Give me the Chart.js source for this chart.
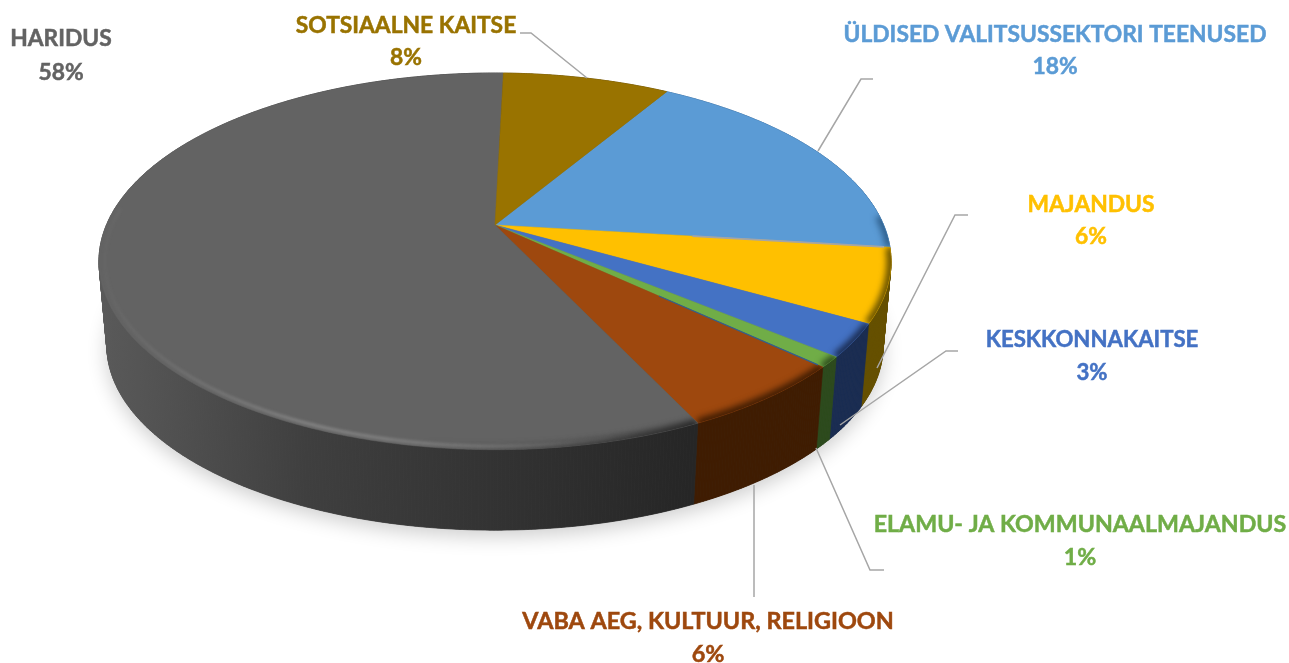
<!DOCTYPE html>
<html lang="et">
<head>
<meta charset="utf-8">
<title>Kulud valdkonniti</title>
<script src="https://cdn.jsdelivr.net/npm/chart.js@4/dist/chart.umd.min.js"></script>
<style>
  html, body { margin: 0; padding: 0; background: #fff; }
  #wrap { width: 1289px; height: 663px; }
</style>
</head>
<body>
<div id="wrap"><canvas id="chart-kulud" width="1289" height="663"></canvas></div>
<script>
/* andmed */
var categories = ['ÜLDISED VALITSUSSEKTORI TEENUSED', 'MAJANDUS', 'KESKKONNAKAITSE', 'ELAMU- JA KOMMUNAALMAJANDUS', 'VABA AEG, KULTUUR, RELIGIOON', 'HARIDUS', 'SOTSIAALNE KAITSE'];
var shares = [18.3, 6.3, 2.8, 0.9, 6.0, 57.5, 8.2];
var topColors = ['#5b9bd5', '#ffc000', '#4472c4', '#70ad47', '#9e480e', '#636363', '#997300'];
var wallColors = ['#2f5f8c', '#665000', '#1a2c52', '#2c4a1c', '#3f1c02', '#3a3a3a', '#5c4500'];

/* sildid: keskpunkt x, nime y, protsendi y, kirja suurus, juhtjoon */
var labelX = [1055, 1091, 1092, 1080, 708, 61, 406];
var labelY = [34.5, 204.5, 339.5, 524.5, 621.5, 38.5, 25.5];
var valueY = [67, 236.5, 372.5, 557.5, 654, 73, 57.5];
var labelSize = [22.8, 22.8, 22.2, 23.2, 23.4, 22.8, 22.8];
var leaders = [
  [[873, 79], [861, 79], [818, 151]],
  [[968, 215], [955, 215], [877, 368]],
  [[958, 351], [946, 351], [840, 425]],
  [[884, 570], [870, 570], [816, 448]],
  [[754, 597], [754, 485]],
  null,
  [[520, 33], [531, 33], [587, 78]]
];

// perspektiiv: ring -> ekraan, keskpunkt ei ole ellipsi keskel
var CX = 495, CY = 225, RA = 388.6, RB = 181.3, K = 0.193;
var WALL_DY = 85, WALL_SCALE = 0.98;

function topPoint(a) {
  var x = Math.cos(a), y = Math.sin(a), s = 1 / (1 - K * y);
  return { x: CX + RA * x * s, y: CY + RB * y * s };
}
function bottomPoint(a) {
  var p = topPoint(a);
  return { x: CX + (p.x - CX) * WALL_SCALE, y: CY + WALL_DY + (p.y - CY) * WALL_SCALE };
}
function arcPoints(fn, a0, a1) {
  var n = Math.max(2, Math.ceil((a1 - a0) / 0.008)), pts = [];
  for (var i = 0; i <= n; i++) pts.push(fn(a0 + (a1 - a0) * i / n));
  return pts;
}
function tracePoints(ctx, pts) {
  ctx.beginPath();
  pts.forEach(function(p, i) { if (i) ctx.lineTo(p.x, p.y); else ctx.moveTo(p.x, p.y); });
}
function slicePath(ctx, a0, a1) {
  var pts = arcPoints(topPoint, a0, a1);
  ctx.beginPath();
  ctx.moveTo(CX, CY);
  pts.forEach(function(p) { ctx.lineTo(p.x, p.y); });
  ctx.closePath();
}

function drawWall(ctx, a0, a1, fill) {
  var t = arcPoints(topPoint, a0, a1), b = arcPoints(bottomPoint, a0, a1);
  ctx.fillStyle = fill;
  ctx.strokeStyle = fill;
  ctx.lineWidth = 0.7;
  for (var i = 0; i < t.length - 1; i++) {
    ctx.beginPath();
    ctx.moveTo(t[i].x, t[i].y);
    ctx.lineTo(t[i + 1].x, t[i + 1].y);
    ctx.lineTo(b[i + 1].x, b[i + 1].y);
    ctx.lineTo(b[i].x, b[i].y);
    ctx.closePath();
    ctx.fill();
    ctx.stroke();
  }
}

var pie3d = {
  id: 'pie3d',
  // tavalise tasapinnalise lõigu asemel joonistame kaldus ketta
  beforeDatasetDraw: function(chart, args) {
    var ctx = chart.ctx;
    var arcs = chart.getDatasetMeta(args.index).data;

    ctx.save();
    // vari ketta all
    ctx.save();
    ctx.shadowColor = 'rgba(0,0,0,0.2)';
    ctx.shadowBlur = 20;
    ctx.shadowOffsetY = 6;
    ctx.fillStyle = '#555';
    tracePoints(ctx, arcPoints(bottomPoint, 0, Math.PI * 2));
    ctx.closePath();
    ctx.fill();
    ctx.restore();

    var wallGrad = ctx.createLinearGradient(100, 0, 690, 0);
    wallGrad.addColorStop(0, '#5a5a5a');
    wallGrad.addColorStop(0.35, '#3f3f3f');
    wallGrad.addColorStop(1, '#262626');

    arcs.forEach(function(arc, i) {
      drawWall(ctx, arc.startAngle, arc.endAngle, i === 5 ? wallGrad : wallColors[i]);
    });

    var rimGrad = ctx.createLinearGradient(420, 0, 690, 0);
    rimGrad.addColorStop(0, 'rgba(47,47,47,0)');
    rimGrad.addColorStop(1, 'rgba(38,38,38,1)');

    arcs.forEach(function(arc, i) {
      slicePath(ctx, arc.startAngle, arc.endAngle);
      ctx.fillStyle = topColors[i];
      ctx.fill();
      ctx.strokeStyle = topColors[i];
      ctx.lineWidth = 0.5;
      ctx.stroke();

      // pehme serv ainult ketta esiosas
      var from = Math.max(arc.startAngle, -0.05), to = Math.min(arc.endAngle, Math.PI + 0.05);
      if (to <= from) return;
      ctx.save();
      slicePath(ctx, arc.startAngle, arc.endAngle);
      ctx.clip();
      ctx.filter = 'blur(3px)';
      ctx.strokeStyle = i === 5 ? rimGrad : wallColors[i];
      ctx.lineWidth = 9;
      tracePoints(ctx, arcPoints(topPoint, from, to));
      ctx.stroke();
      ctx.restore();
    });

    // hariduse helendav serv
    var h = arcs[5];
    var glow = ctx.createLinearGradient(100, 0, 640, 0);
    glow.addColorStop(0, 'rgba(150,150,150,0.05)');
    glow.addColorStop(0.15, 'rgba(150,150,150,0.3)');
    glow.addColorStop(0.4, 'rgba(160,160,160,0.65)');
    glow.addColorStop(0.72, 'rgba(150,150,150,0.5)');
    glow.addColorStop(1, 'rgba(150,150,150,0)');
    ctx.save();
    ctx.filter = 'blur(1.5px)';
    ctx.strokeStyle = glow;
    ctx.lineWidth = 2.6;
    tracePoints(ctx, arcPoints(function(a) {
      var p = topPoint(a);
      return { x: CX + (p.x - CX) * 0.985, y: CY + (p.y - CY) * 0.985 };
    }, h.startAngle, Math.PI * 1.03));
    ctx.stroke();
    ctx.restore();

    // õhukesed vahejooned: hall sinise ja kollase, tumesinine rohelise ja pruuni vahel
    [[0, '#a5a5a5', 1.6], [3, '#2f6190', 1.2]].forEach(function(s) {
      var p = topPoint(arcs[s[0]].endAngle);
      ctx.strokeStyle = s[1];
      ctx.lineWidth = s[2];
      ctx.beginPath();
      ctx.moveTo(CX + (p.x - CX) * 0.5, CY + (p.y - CY) * 0.5);
      ctx.lineTo(CX + (p.x - CX) * 0.985, CY + (p.y - CY) * 0.985);
      ctx.stroke();
    });
    ctx.restore();
    return false;
  },
  afterDraw: function(chart) {
    var ctx = chart.ctx;
    ctx.save();
    ctx.strokeStyle = '#a6a6a6';
    ctx.lineWidth = 1.5;
    leaders.forEach(function(line) {
      if (!line) return;
      ctx.beginPath();
      line.forEach(function(p, i) { if (i) ctx.lineTo(p[0], p[1]); else ctx.moveTo(p[0], p[1]); });
      ctx.stroke();
    });
    ctx.textAlign = 'center';
    ctx.textBaseline = 'middle';
    ctx.lineWidth = 0.5;
    categories.forEach(function(name, i) {
      var pct = Math.round(shares[i]) + '%';
      ctx.font = 'bold ' + labelSize[i] + 'px Lato, "Open Sans", sans-serif';
      ctx.fillStyle = topColors[i];
      ctx.strokeStyle = topColors[i];
      ctx.fillText(name, labelX[i], labelY[i]);
      ctx.strokeText(name, labelX[i], labelY[i]);
      ctx.fillText(pct, labelX[i], valueY[i]);
      ctx.strokeText(pct, labelX[i], valueY[i]);
    });
    ctx.restore();
  }
};

document.addEventListener('DOMContentLoaded', function() {
  new Chart(document.getElementById('chart-kulud').getContext('2d'), {
    type: 'pie',
    data: {
      labels: categories,
      datasets: [{ data: shares, backgroundColor: topColors, borderWidth: 0 }]
    },
    options: {
      responsive: false,
      animation: false,
      rotation: 31,
      plugins: { legend: { display: false }, tooltip: { enabled: false } }
    },
    plugins: [pie3d]
  });
});
</script>
</body>
</html>
